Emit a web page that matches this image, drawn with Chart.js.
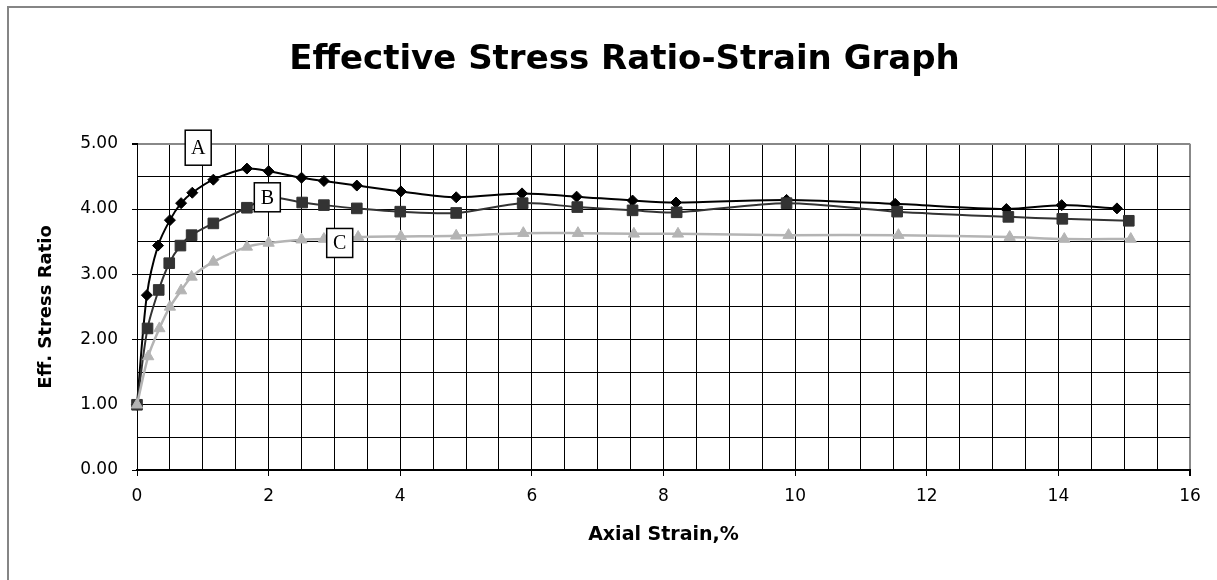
<!DOCTYPE html>
<html><head><meta charset="utf-8">
<script src="https://cdn.jsdelivr.net/npm/chart.js@4/dist/chart.umd.min.js"></script>
<style>
html,body{margin:0;padding:0;background:#fff;overflow:hidden;width:1217px;height:580px;}
#frame{position:absolute;left:7px;top:6px;width:1400px;height:800px;border-left:2px solid #858585;border-top:2px solid #858585;}
#wrap{position:absolute;left:0;top:0;width:1217px;height:580px;}
</style></head><body>
<div id="frame"></div>
<div id="wrap"><canvas id="c" width="1217" height="580"></canvas></div>
<script>
const strainA = [0, 0.15, 0.32, 0.50, 0.67, 0.84, 1.16, 1.67, 2.00, 2.50, 2.84, 3.34, 4.01, 4.85, 5.85, 6.68, 7.53, 8.19, 9.87, 11.52, 13.21, 14.05, 14.89];
const ratioA  = [1.00, 2.68, 3.44, 3.83, 4.09, 4.25, 4.45, 4.62, 4.58, 4.48, 4.43, 4.36, 4.27, 4.18, 4.24, 4.19, 4.13, 4.10, 4.14, 4.08, 4.00, 4.06, 4.01];
const strainB = [0, 0.16, 0.33, 0.49, 0.66, 0.83, 1.16, 1.67, 2.00, 2.51, 2.84, 3.34, 4.00, 4.85, 5.86, 6.69, 7.53, 8.20, 9.87, 11.55, 13.24, 14.06, 15.07];
const ratioB  = [1.00, 2.17, 2.76, 3.17, 3.44, 3.60, 3.78, 4.02, 4.18, 4.10, 4.06, 4.01, 3.96, 3.94, 4.09, 4.03, 3.98, 3.95, 4.09, 3.96, 3.88, 3.85, 3.82];
const strainC = [0, 0.17, 0.34, 0.50, 0.67, 0.83, 1.16, 1.67, 2.00, 2.50, 2.84, 3.36, 4.01, 4.85, 5.87, 6.70, 7.55, 8.22, 9.90, 11.57, 13.26, 14.09, 15.10];
const ratioC  = [1.00, 1.74, 2.17, 2.50, 2.75, 2.96, 3.19, 3.42, 3.48, 3.53, 3.54, 3.57, 3.58, 3.59, 3.63, 3.63, 3.62, 3.62, 3.60, 3.60, 3.57, 3.54, 3.54];
const seriesNames = ['A', 'B', 'C'];
const xTickLabels = ['0','2','4','6','8','10','12','14','16'];
const yTickLabels = ['0.00','1.00','2.00','3.00','4.00','5.00'];
const chartTitle = 'Effective Stress Ratio-Strain Graph';
const xTitle = 'Axial Strain,%';
const yTitle = 'Eff. Stress Ratio';
// tag boxes (series labels placed on the plot, in data units)
const tagText = ['A', 'B', 'C'];
const tagStrain = [0.93, 1.98, 3.08];
const tagRatio = [4.94, 4.18, 3.48];

const pts = (xs, ys) => xs.map((x, i) => ({x: x, y: ys[i]}));

const tagPlugin = {
  id: 'tags',
  afterDatasetsDraw(chart) {
    const {ctx, scales: {x, y}} = chart;
    ctx.save();
    ctx.font = '20px "Liberation Serif", "Times New Roman", serif';
    ctx.textAlign = 'center';
    ctx.textBaseline = 'middle';
    tagText.forEach((t, i) => {
      const cx = x.getPixelForValue(tagStrain[i]);
      const cy = y.getPixelForValue(tagRatio[i]);
      const w = 26, h = i === 0 ? 35 : 29;
      ctx.fillStyle = '#fff';
      ctx.fillRect(cx - w / 2, cy - h / 2, w, h);
      ctx.strokeStyle = '#000';
      ctx.lineWidth = 1.5;
      ctx.strokeRect(cx - w / 2, cy - h / 2, w, h);
      ctx.fillStyle = '#000';
      ctx.fillText(t, cx, cy + 1);
    });
    ctx.restore();
  }
};

const isMajorX = v => xTickLabels.includes(String(v));
const isMajorY = v => yTickLabels.includes(Number(v).toFixed(2));

new Chart(document.getElementById('c'), {
  type: 'scatter',
  data: {
    datasets: [
      {label: seriesNames[0], data: pts(strainA, ratioA), showLine: true, borderColor: '#000', backgroundColor: '#000',
       borderWidth: 2, pointStyle: 'rectRot', pointRadius: 5.5, pointBorderWidth: 1, pointBorderColor: '#000',
       tension: 0.3, order: 2, clip: false},
      {label: seriesNames[1], data: pts(strainB, ratioB), showLine: true, borderColor: '#333', backgroundColor: '#333',
       borderWidth: 2, pointStyle: 'rect', pointRadius: 7.5, pointBorderWidth: 1, pointBorderColor: '#333',
       tension: 0.3, order: 1, clip: false},
      {label: seriesNames[2], data: pts(strainC, ratioC), showLine: true, borderColor: '#b4b4b4', backgroundColor: '#b4b4b4',
       borderWidth: 2.5, pointStyle: 'triangle', pointRadius: 6.5, pointBorderWidth: 1, pointBorderColor: '#b4b4b4',
       tension: 0.3, order: 0, clip: false}
    ]
  },
  options: {
    responsive: false,
    animation: false,
    devicePixelRatio: 1,
    layout: {padding: {left: 59, right: 27, top: 0, bottom: 0}},
    plugins: {
      legend: {display: false},
      tooltip: {enabled: false},
      title: {display: true, text: chartTitle, color: '#000',
        font: {family: 'DejaVu Sans', size: 34, weight: 'bold'}, padding: {top: 40, bottom: 63}}
    },
    scales: {
      x: {
        type: 'linear', min: 0, max: 16,
        ticks: {stepSize: 0.5, autoSkip: false, maxRotation: 0, color: '#000', padding: 10,
          font: {family: 'DejaVu Sans', size: 17},
          callback: v => isMajorX(v) ? String(v) : ''},
        grid: {
          color: c => (c.tick && c.tick.value === 16) ? '#888' : '#000',
          lineWidth: c => (c.tick && c.tick.value === 16) ? 2 : 1,
          tickLength: 6,
          tickColor: c => (c.tick && isMajorX(c.tick.value)) ? '#000' : 'rgba(0,0,0,0)'
        },
        border: {color: '#000', width: 2},
        title: {display: true, text: xTitle, color: '#000',
          font: {family: 'DejaVu Sans', size: 19, weight: 'bold'}, padding: {top: 0, bottom: 34}},
        afterFit: s => { s.height = 110; }
      },
      y: {
        type: 'linear', min: 0, max: 5,
        ticks: {stepSize: 0.5, autoSkip: false, color: '#000', padding: 14,
          font: {family: 'DejaVu Sans', size: 17},
          callback: v => isMajorY(v) ? Number(v).toFixed(2) : ''},
        grid: {
          color: c => (c.tick && c.tick.value === 5) ? '#888' : '#000',
          lineWidth: c => (c.tick && c.tick.value === 5) ? 2 : 1,
          tickLength: 5,
          tickColor: c => (c.tick && isMajorY(c.tick.value)) ? '#000' : 'rgba(0,0,0,0)'
        },
        border: {color: '#000', width: 1},
        title: {display: true, text: yTitle, color: '#000',
          font: {family: 'DejaVu Sans', size: 18, weight: 'bold'}, padding: {top: -23, bottom: 0}},
        afterFit: s => { s.width = 78; }
      }
    }
  },
  plugins: [tagPlugin]
});
</script>
</body></html>
